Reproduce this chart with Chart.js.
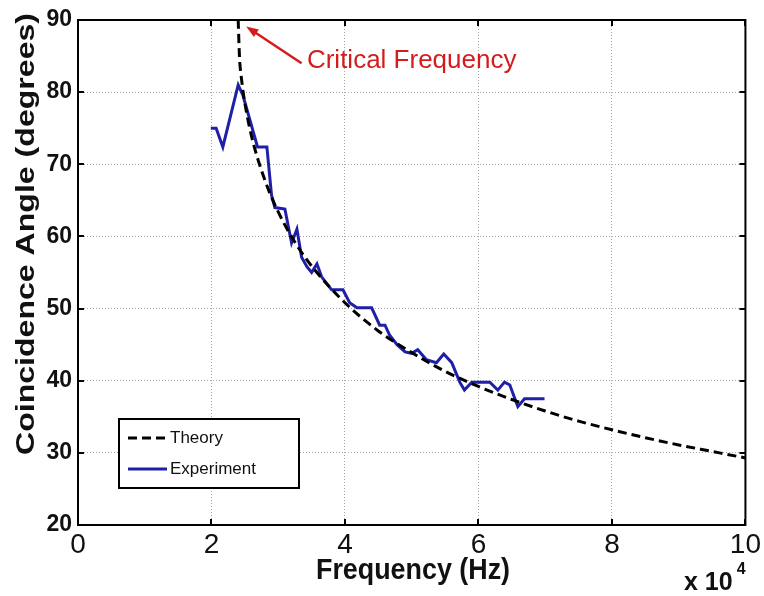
<!DOCTYPE html>
<html>
<head>
<meta charset="utf-8">
<script src="https://cdn.jsdelivr.net/npm/chart.js@4/dist/chart.umd.min.js"></script>
<style>
  html, body { margin: 0; padding: 0; background: #ffffff; }
  #wrap { width: 764px; height: 596px; }
</style>
</head>
<body>
<div id="wrap"><canvas id="c" width="764" height="596"></canvas></div>
<script>
// Frequencies are in units of 10^4 Hz (see the "x 10^4" multiplier under the axis).
const expFreq  = [1.99, 2.07, 2.17, 2.40, 2.47, 2.69, 2.83, 2.90, 2.95, 3.10, 3.20, 3.28, 3.35, 3.43, 3.50, 3.58,
                  3.65, 3.80, 3.97, 4.07, 4.18, 4.40, 4.52, 4.60, 4.67, 4.78, 4.90, 5.00, 5.09, 5.22, 5.37, 5.48,
                  5.60, 5.72, 5.79, 5.90, 6.17, 6.29, 6.39, 6.47, 6.59, 6.69, 6.99];
const expAngle = [75.0, 75.0, 72.4, 81.0, 79.6, 72.4, 72.4, 65.7, 64.0, 63.8, 59.1, 61.0, 57.1, 55.8, 55.0, 56.2,
                  54.4, 52.6, 52.6, 50.8, 50.1, 50.1, 47.7, 47.7, 46.3, 45.0, 44.0, 43.8, 44.3, 42.9, 42.5, 43.7,
                  42.5, 39.8, 38.7, 39.8, 39.8, 38.7, 39.8, 39.4, 36.4, 37.5, 37.5];

const theoryFreq  = [2.40, 2.42, 2.45, 2.50, 2.60, 2.80, 3.00, 3.25, 3.50, 4.00, 4.50, 5.00, 5.50, 6.00,
                     6.50, 7.00, 7.50, 8.00, 8.50, 9.00, 9.50, 10.0];
const theoryAngle = [90.0, 84.8, 81.8, 78.5, 73.9, 67.8, 63.4, 59.2, 55.9, 50.8, 46.9, 43.9, 41.3, 39.2,
                     37.4, 35.8, 34.4, 33.2, 32.1, 31.1, 30.2, 29.3];

const xTicks = [0, 2, 4, 6, 8, 10];
const yTicks = [20, 30, 40, 50, 60, 70, 80, 90];

const seriesNames = ['Theory', 'Experiment'];
const annotationText = 'Critical Frequency';
// arrow head / tail and label anchor, in data units
const arrowHead = { x: 2.52, y: 89.1 };
const arrowTail = { x: 3.35, y: 84.0 };
const labelAnchor = { x: 3.43, y: 84.3 };

const SANS = "'Liberation Sans', Arial, sans-serif";
const NARROW = "'Liberation Sans Narrow', 'Arial Narrow', 'Liberation Sans', Arial, sans-serif";
const BLUE = '#1f1fa8';
const RED = '#d41c1c';

function toPoints(xs, ys) { return xs.map((x, i) => ({ x: x, y: ys[i] })); }

// Axis box, inward tick marks, titles, legend and the critical-frequency note.
const decorations = {
  id: 'decorations',
  afterDraw(chart) {
    const { ctx, chartArea: a, scales: { x, y } } = chart;
    ctx.save();

    // inward ticks on all four sides
    ctx.strokeStyle = '#000';
    ctx.lineWidth = 2;
    const tl = 6;
    ctx.beginPath();
    xTicks.forEach(v => {
      const px = Math.round(x.getPixelForValue(v));
      ctx.moveTo(px, a.bottom); ctx.lineTo(px, a.bottom - tl);
      ctx.moveTo(px, a.top); ctx.lineTo(px, a.top + tl);
    });
    yTicks.forEach(v => {
      const py = Math.round(y.getPixelForValue(v));
      ctx.moveTo(a.left, py); ctx.lineTo(a.left + tl, py);
      ctx.moveTo(a.right, py); ctx.lineTo(a.right - tl, py);
    });
    ctx.stroke();

    // frame
    ctx.lineWidth = 2;
    ctx.strokeRect(a.left, a.top, a.right - a.left, a.bottom - a.top);

    // y-axis title
    const yTitle = 'Coincidence Angle (degrees)';
    ctx.fillStyle = '#111';
    ctx.font = 'bold 26px ' + SANS;
    ctx.textAlign = 'center';
    ctx.textBaseline = 'middle';
    ctx.save();
    ctx.translate(27, 234);
    ctx.rotate(-Math.PI / 2);
    const wy = ctx.measureText(yTitle).width;
    ctx.scale(442 / wy, 1);
    ctx.fillText(yTitle, 0, 0);
    ctx.restore();

    // x-axis title
    const xTitle = 'Frequency (Hz)';
    ctx.font = 'bold 30px ' + NARROW;
    ctx.save();
    ctx.translate(413, 571);
    const wx = ctx.measureText(xTitle).width;
    ctx.scale(194 / wx, 1);
    ctx.fillText(xTitle, 0, 0);
    ctx.restore();

    // exponent multiplier
    ctx.textAlign = 'left';
    ctx.textBaseline = 'alphabetic';
    ctx.font = 'bold 25px ' + NARROW;
    ctx.fillText('x 10', 684, 590);
    const wm = ctx.measureText('x 10').width;
    ctx.font = 'bold 16px ' + NARROW;
    ctx.fillText('4', 684 + wm + 4, 574);

    // legend
    const lx = 119, ly = 419, lw = 180, lh = 69;
    ctx.fillStyle = '#fff';
    ctx.fillRect(lx, ly, lw, lh);
    ctx.strokeStyle = '#000';
    ctx.lineWidth = 2;
    ctx.strokeRect(lx, ly, lw, lh);
    const ds = chart.data.datasets;
    const rows = [438, 469];
    ds.forEach((d, i) => {
      ctx.save();
      ctx.strokeStyle = d.borderColor;
      ctx.lineWidth = 3;
      ctx.setLineDash(d.borderDash || []);
      ctx.beginPath();
      ctx.moveTo(128, rows[i]);
      ctx.lineTo(167, rows[i]);
      ctx.stroke();
      ctx.restore();
      ctx.fillStyle = '#111';
      ctx.font = '17px ' + SANS;
      ctx.textBaseline = 'middle';
      ctx.fillText(d.label, 170, rows[i]);
    });

    // critical frequency note with arrow
    const hx = x.getPixelForValue(arrowHead.x), hy = y.getPixelForValue(arrowHead.y);
    const tx = x.getPixelForValue(arrowTail.x), ty = y.getPixelForValue(arrowTail.y);
    ctx.strokeStyle = RED;
    ctx.fillStyle = RED;
    ctx.lineWidth = 2.5;
    const ang = Math.atan2(hy - ty, hx - tx);
    ctx.beginPath();
    ctx.moveTo(tx, ty);
    ctx.lineTo(hx - 9 * Math.cos(ang), hy - 9 * Math.sin(ang));
    ctx.stroke();
    ctx.beginPath();
    ctx.moveTo(hx, hy);
    ctx.lineTo(hx - 13 * Math.cos(ang - 0.35), hy - 13 * Math.sin(ang - 0.35));
    ctx.lineTo(hx - 13 * Math.cos(ang + 0.35), hy - 13 * Math.sin(ang + 0.35));
    ctx.closePath();
    ctx.fill();
    ctx.font = '26px ' + SANS;
    ctx.textAlign = 'left';
    ctx.textBaseline = 'middle';
    ctx.fillText(annotationText, x.getPixelForValue(labelAnchor.x), y.getPixelForValue(labelAnchor.y));

    ctx.restore();
  }
};

new Chart(document.getElementById('c'), {
  type: 'line',
  data: {
    datasets: [
      {
        label: seriesNames[0],
        data: toPoints(theoryFreq, theoryAngle),
        borderColor: '#000',
        borderWidth: 3,
        borderDash: [9, 5],
        pointRadius: 0,
        cubicInterpolationMode: 'monotone',
        fill: false
      },
      {
        label: seriesNames[1],
        data: toPoints(expFreq, expAngle),
        borderColor: BLUE,
        borderWidth: 3,
        pointRadius: 0,
        tension: 0,
        fill: false
      }
    ]
  },
  options: {
    responsive: false,
    animation: false,
    devicePixelRatio: 1,
    layout: { padding: { top: 20, right: 18, left: 0, bottom: 0 } },
    plugins: { legend: { display: false }, tooltip: { enabled: false } },
    scales: {
      x: {
        type: 'linear',
        min: 0, max: 10,
        afterBuildTicks: s => { s.ticks = xTicks.map(v => ({ value: v })); },
        afterFit: s => { s.height = 71; },
        grid: { color: '#a8a8a8', lineWidth: 1, drawTicks: false },
        border: { display: false, dash: [1, 2] },
        ticks: { padding: 3, color: '#111', autoSkip: false, maxRotation: 0,
                 font: { family: NARROW, size: 28 } }
      },
      y: {
        type: 'linear',
        min: 20, max: 90,
        afterBuildTicks: s => { s.ticks = yTicks.map(v => ({ value: v })); },
        afterFit: s => { s.width = 78; },
        grid: { color: '#a8a8a8', lineWidth: 1, drawTicks: false },
        border: { display: false, dash: [1, 2] },
        ticks: { padding: 6, color: '#111',
                 font: { family: SANS, size: 23, weight: 'bold' } }
      }
    }
  },
  plugins: [decorations]
});
</script>
</body>
</html>
